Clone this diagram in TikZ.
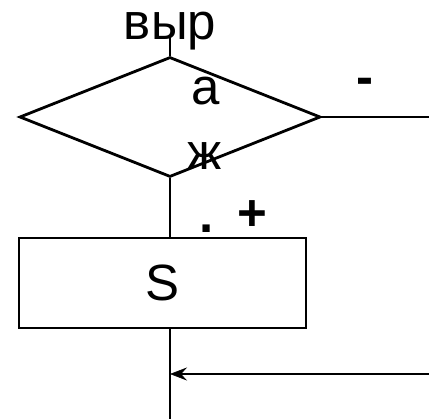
\documentclass[tikz,border=0pt]{standalone}
\usepackage{fontspec}
\setmainfont{Liberation Sans}
\usetikzlibrary{shapes.geometric,arrows.meta}
\begin{document}
\begin{tikzpicture}[x=1pt,y=-1pt,
  line width=2.8pt,
  lbl/.style={anchor=base,inner sep=0pt,font=\fontsize{51}{56}\selectfont},
  blbl/.style={anchor=base,inner sep=0pt,font=\fontsize{51}{56}\selectfont\bfseries},
  decision/.style={draw,diamond,inner sep=0pt,minimum width=301pt,minimum height=120pt,aspect=2.508},
  proc/.style={draw,rectangle,inner sep=0pt,minimum width=287pt,minimum height=90pt,font=\fontsize{51}{56}\selectfont}]
\useasboundingbox (0,0) rectangle (429,419);
\coordinate (top) at (170,36);
\node[decision] (d) at (170,117) {};
\node[proc] (r) at (162.5,283) {S};
\coordinate (right) at (429,117);
\coordinate (bot) at (170,419);
\coordinate (join) at (170,374);
\coordinate (back) at (429,374);
\draw (top) -- (d.north);
\draw (d.east) -- (right);
\draw (d.south) -- (d.south |- r.north);
\draw (d.south |- r.south) -- (bot);
\draw[-{Stealth[length=17pt,width=13pt,inset=6pt,line width=0.5pt]},line width=2.2pt] (back) -- (join);
\node[lbl] (t1) at (170,40) {выр};
\node[lbl] (t2) at (206,105) {а};
\node[lbl] (t3) at (205,170) {ж};
\node[blbl] (t4) at (365,95) {-};
\node[blbl] (t5) at (252,231) {+};
\node[blbl] (t6) at (207,233) {.};
\end{tikzpicture}
\end{document}
